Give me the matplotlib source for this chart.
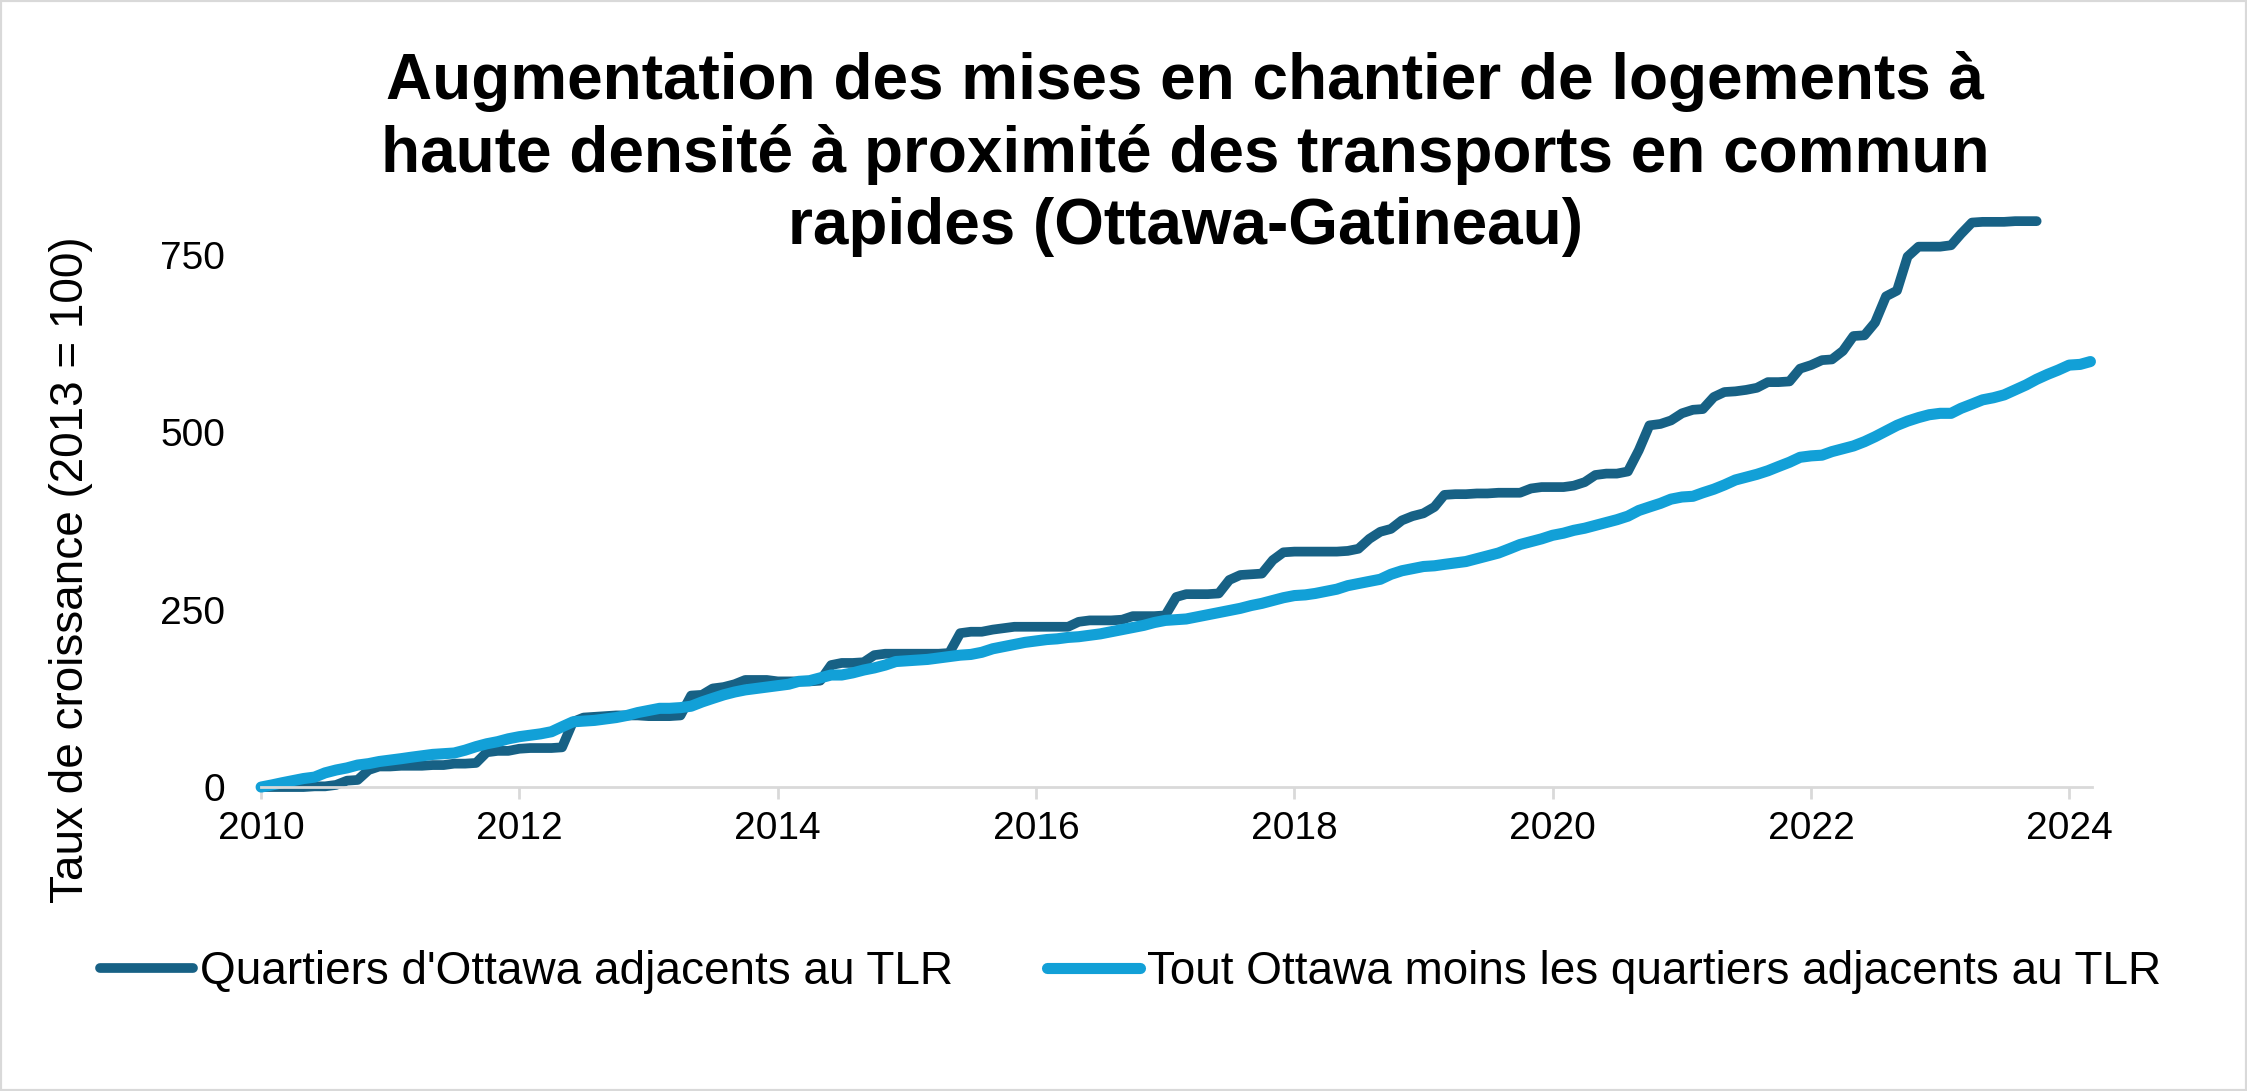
import pandas as pd
import matplotlib
matplotlib.use('Agg')
import matplotlib.pyplot as plt
import matplotlib.dates as mdates
from matplotlib.patches import Rectangle

'''Housing starts growth near rapid transit, Ottawa-Gatineau'''

plt.rcParams['font.family'] = ['Liberation Sans', 'DejaVu Sans']

#Monthly index values (2013 = 100), starting January 2010
#Neighbourhoods adjacent to the LRT (ends October 2023)
tlr_adjacent = [
    0, 0, 0, 0, 0, 1, 1, 3, 9, 10, 24, 29,                       # 2010
    29, 30, 30, 30, 31, 31, 33, 33, 34, 49, 51, 51,              # 2011
    54, 55, 55, 55, 56, 92, 98, 99, 100, 101, 101, 101,          # 2012
    100, 100, 100, 101, 129, 130, 139, 141, 145, 151, 151, 151,  # 2013
    149, 149, 149, 149, 150, 172, 175, 175, 176, 186, 188, 188,  # 2014
    188, 188, 188, 188, 189, 217, 219, 219, 222, 224, 226, 226,  # 2015
    226, 226, 226, 226, 233, 235, 235, 235, 236, 241, 241, 241,  # 2016
    242, 268, 272, 272, 272, 273, 292, 299, 300, 301, 320, 331,  # 2017
    332, 332, 332, 332, 332, 333, 336, 350, 360, 364, 376, 382,  # 2018
    386, 395, 412, 413, 413, 414, 414, 415, 415, 415, 421, 423,  # 2019
    423, 423, 425, 430, 440, 442, 442, 445, 475, 510, 512, 517,  # 2020
    527, 532, 533, 550, 557, 558, 560, 563, 571, 571, 572, 590,  # 2021
    595, 602, 603, 615, 636, 637, 655, 692, 700, 748, 762, 762,  # 2022
    762, 764, 780, 796, 797, 797, 797, 798, 798, 798,            # 2023
]

#All of Ottawa minus the LRT-adjacent neighbourhoods (ends March 2024)
rest_of_ottawa = [
    0, 3, 6, 9, 12, 14, 20, 24, 27, 31, 33, 36,                  # 2010
    38, 40, 42, 44, 46, 47, 48, 52, 57, 61, 64, 68,              # 2011
    71, 73, 75, 78, 85, 92, 93, 94, 96, 98, 101, 105,            # 2012
    108, 111, 111, 112, 114, 120, 125, 130, 134, 137, 139, 141,  # 2013
    143, 145, 149, 150, 154, 158, 158, 161, 165, 168, 172, 177,  # 2014
    178, 179, 180, 182, 184, 186, 187, 190, 195, 198, 201, 204,  # 2015
    206, 208, 209, 211, 212, 214, 216, 219, 222, 225, 228, 232,  # 2016
    235, 236, 237, 240, 243, 246, 249, 252, 256, 259, 263, 267,  # 2017
    270, 271, 273, 276, 279, 284, 287, 290, 293, 300, 305, 308,  # 2018
    311, 312, 314, 316, 318, 322, 326, 330, 336, 342, 346, 350,  # 2019
    355, 358, 362, 365, 369, 373, 377, 382, 390, 395, 400, 406,  # 2020
    409, 410, 415, 420, 426, 433, 437, 441, 446, 452, 458, 465,  # 2021
    467, 468, 473, 477, 481, 487, 494, 502, 510, 516, 521, 525,  # 2022
    527, 527, 534, 540, 546, 549, 553, 560, 567, 575, 582, 588,  # 2023
    595, 596, 600,                                               # 2024
]

labelList = ["Quartiers d'Ottawa adjacents au TLR",
             "Tout Ottawa moins les quartiers adjacents au TLR"]
yticksList = [0, 250, 500, 750]
title = ("Augmentation des mises en chantier de logements à\n"
         "haute densité à proximité des transports en commun\n"
         "rapides (Ottawa-Gatineau)")
ylabel = 'Taux de croissance (2013 = 100)'

darkBlue = '#176185'
lightBlue = '#12A0D7'
axisGrey = '#D9D9D9'

dates_adj = pd.date_range('2010-01-01', periods=len(tlr_adjacent), freq='MS')
dates_rest = pd.date_range('2010-01-01', periods=len(rest_of_ottawa), freq='MS')

#Create plot
fig = plt.figure(figsize=(22.47, 10.91), dpi=100)
ax = fig.add_axes([0.1162, 0.2786, 0.8149, 0.52])

lineA, = ax.plot(dates_adj, tlr_adjacent, color=darkBlue, lw=7,
                 solid_capstyle='round', solid_joinstyle='round',
                 clip_on=False, label=labelList[0])
lineB, = ax.plot(dates_rest, rest_of_ottawa, color=lightBlue, lw=8,
                 solid_capstyle='round', solid_joinstyle='round',
                 clip_on=False, label=labelList[1])

#Axes, ticks and spines
ax.set_xlim(pd.Timestamp('2010-01-01'), pd.Timestamp('2024-03-06'))
ax.set_ylim(0, 800)
ax.set_yticks(yticksList)
ax.xaxis.set_major_locator(mdates.YearLocator(2))
ax.xaxis.set_major_formatter(mdates.DateFormatter('%Y'))
for side in ['top', 'right', 'left']:
    ax.spines[side].set_visible(False)
ax.spines['bottom'].set_color(axisGrey)
ax.spines['bottom'].set_linewidth(2)
ax.tick_params(axis='x', colors=axisGrey, labelcolor='black', length=8.5,
               width=2, labelsize=28, pad=9)
ax.tick_params(axis='y', length=0, labelsize=28, pad=26)

#Texts
fig.text(0.5274, 0.859, title, ha='center', va='center', fontsize=46,
         fontweight='bold', linespacing=1.25)
fig.text(0.0314, 0.4775, ylabel, rotation=90, ha='center', va='center',
         fontsize=33)

fig.legend(handles=[lineA, lineB], loc='center', bbox_to_anchor=(0.503, 0.109),
           ncol=2, frameon=False, fontsize=33, handlelength=2.03,
           handletextpad=0.15, columnspacing=2.05)

#Outer border
fig.add_artist(Rectangle((0, 0), 1, 1, transform=fig.transFigure, fill=False,
                         edgecolor=axisGrey, lw=3))

plt.savefig('out.png', dpi=100)
